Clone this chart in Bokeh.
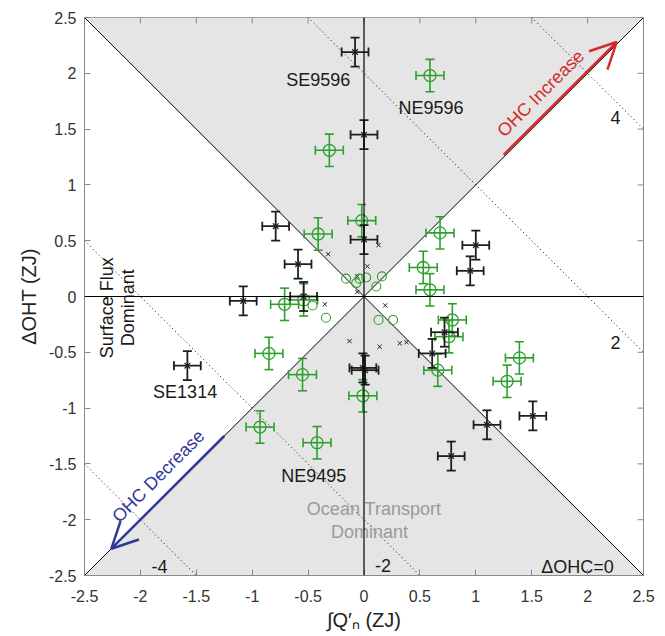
import numpy as np
from bokeh.plotting import figure
from bokeh.models import FixedTicker, Arrow, OpenHead, Range1d, Span
from bokeh.core.properties import value
from bokeh.embed import file_html
from bokeh.resources import INLINE

# ---------------- data ----------------
LIM = 2.5
ticks = [-2.5, -2, -1.5, -1, -0.5, 0, 0.5, 1, 1.5, 2, 2.5]
tick_labels = ["-2.5", "-2", "-1.5", "-1", "-0.5", "0", "0.5", "1", "1.5", "2", "2.5"]
ohc_levels = [-4, -2, 2, 4]
ohc_level_labels = ["-4", "-2", "2", "4"]

# black crosses with error bars
blk_x = [-0.08, 0.00, -0.79, -0.59, 0.00, -1.08, -0.54, -1.58, -0.01, 0.01,
         0.72, 0.61, 1.10, 1.51, 0.78, 1.00, 0.95]
blk_y = [2.19, 1.45, 0.63, 0.29, 0.51, -0.04, 0.00, -0.62, -0.64, -0.66,
         -0.32, -0.51, -1.15, -1.07, -1.43, 0.46, 0.23]
blk_xerr = [0.12] * len(blk_x)
blk_yerr = [0.13] * len(blk_x)

# green circles with error bars
grn_x = [0.59, -0.31, -0.41, -0.02, 0.68, 0.53, 0.59, -0.71, -0.54, -0.85,
         -0.55, -0.01, -0.93, -0.42, 0.79, 0.76, 0.66, 1.39, 1.28]
grn_y = [1.98, 1.31, 0.56, 0.68, 0.57, 0.26, 0.06, -0.07, -0.03, -0.51,
         -0.70, -0.89, -1.17, -1.31, -0.21, -0.36, -0.66, -0.55, -0.76]
grn_xerr = [0.125] * len(grn_x)
grn_yerr = [0.145] * len(grn_x)

# small black x markers (no error bars)
sx_x = [-0.32, 0.13, 0.03, -0.06, -0.06, -0.35, 0.19, -0.13, 0.14, 0.32, 0.38]
sx_y = [0.38, 0.46, 0.27, 0.18, 0.04, -0.07, -0.08, -0.40, -0.45, -0.42, -0.41]

# small green circles (no error bars)
sc_x = [-0.16, -0.07, -0.04, 0.02, 0.16, 0.11, -0.46, -0.34, 0.13, 0.26]
sc_y = [0.16, 0.12, 0.16, 0.17, 0.18, 0.09, -0.08, -0.19, -0.21, -0.21]

# region / point annotations
name_labels = ["SE9596", "NE9596", "SE1314", "NE9495"]
name_x = [-0.41, 0.60, -1.60, -0.45]
name_y = [1.94, 1.69, -0.86, -1.61]

inc_start = (1.25, 1.27)
inc_end = (2.26, 2.28)
dec_start = (-1.25, -1.25)
dec_end = (-2.26, -2.26)

# ---------------- figure ----------------
FONT = value("Liberation Sans")
GREEN = "#2ca02c"
BLACK = "#1e1e1e"
FRAME = "#8a8a8a"

p = figure(width=665, height=636, x_range=Range1d(-LIM, LIM), y_range=Range1d(-LIM, LIM),
           output_backend="svg", toolbar_location=None,
           min_border_left=84, min_border_right=22, min_border_top=17, min_border_bottom=61)
p.grid.visible = False
p.outline_line_color = FRAME
p.outline_line_width = 1
p.background_fill_color = "white"

# shaded ocean-transport-dominant regions
p.patches(xs=[[-LIM, LIM, 0], [-LIM, LIM, 0]], ys=[[LIM, LIM, 0], [-LIM, -LIM, 0]],
          fill_color="#e5e5e5", line_color=None)

# dotted iso-OHC lines x + y = c
for c in ohc_levels:
    x0, x1 = max(-LIM, c - LIM), min(LIM, c + LIM)
    p.line([x0, x1], [c - x0, c - x1], line_color="black", line_width=1, line_dash="1 3")

# solid reference lines
p.line([-LIM, LIM], [-LIM, LIM], line_color="black", line_width=1)
p.line([-LIM, LIM], [LIM, -LIM], line_color="black", line_width=1)
p.add_layout(Span(location=0, dimension="height", line_color="black", line_width=1.2))
p.add_layout(Span(location=0, dimension="width", line_color="black", line_width=1.2))

# inward tick marks on the top and right frame edges (clipped to the frame)
p.scatter(ticks, [LIM] * len(ticks), marker="dash", size=12, angle=np.pi / 2,
          line_color=FRAME, line_width=1)
p.scatter([LIM] * len(ticks), ticks, marker="dash", size=12, angle=0,
          line_color=FRAME, line_width=1)


def errorbars(xs, ys, xe, ye, color, lw):
    xs = np.array(xs); ys = np.array(ys); xe = np.array(xe); ye = np.array(ye)
    p.segment(xs - xe, ys, xs + xe, ys, line_color=color, line_width=lw)
    p.segment(xs, ys - ye, xs, ys + ye, line_color=color, line_width=lw)
    p.scatter(np.concatenate([xs - xe, xs + xe]), np.concatenate([ys, ys]), marker="dash",
              size=9, angle=np.pi / 2, line_color=color, line_width=lw)
    p.scatter(np.concatenate([xs, xs]), np.concatenate([ys - ye, ys + ye]), marker="dash",
              size=9, angle=0, line_color=color, line_width=lw)


errorbars(grn_x, grn_y, grn_xerr, grn_yerr, GREEN, 1.6)
p.scatter(grn_x, grn_y, marker="circle", size=12, fill_color=None, line_color=GREEN, line_width=1.3)

errorbars(blk_x, blk_y, blk_xerr, blk_yerr, BLACK, 1.8)
p.scatter(blk_x, blk_y, marker="x", size=8, line_color=BLACK, line_width=1.2)

p.scatter(sx_x, sx_y, marker="x", size=6, line_color=BLACK, line_width=1)
p.scatter(sc_x, sc_y, marker="circle", size=9, fill_color=None, line_color=GREEN, line_width=1.1)


# texts
def txt(x, y, s, color="#1a1a1a", size="18px", angle=0.0, align="center"):
    p.text(x=[x], y=[y], text=[s], text_color=color, text_font=FONT,
           text_font_size=value(size), angle=angle, text_align=align, text_baseline="middle")


p.text(x=name_x, y=name_y, text=name_labels, text_color="#1a1a1a", text_font=FONT,
       text_font_size=value("18px"), text_align="center", text_baseline="middle")

lvl_pos = {4: (2.25, 1.60), 2: (2.25, -0.41), -2: (0.17, -2.41), -4: (-1.83, -2.42)}
for c, lab in zip(ohc_levels, ohc_level_labels):
    txt(lvl_pos[c][0], lvl_pos[c][1], lab)

txt(1.91, -2.42, "ΔOHC=0")
txt(0.09, -1.90, "Ocean Transport", color="#9a9a9a")
txt(0.05, -2.11, "Dominant", color="#9a9a9a")
txt(-2.30, -0.10, "Surface Flux", angle=np.pi / 2)
txt(-2.11, -0.10, "Dominant", angle=np.pi / 2)
txt(1.58, 1.82, "OHC Increase", color="#d42a2a", angle=np.pi / 4)
txt(-1.84, -1.61, "OHC Decrease", color="#2e3a9a", angle=np.pi / 4)

# arrows
p.add_layout(Arrow(end=OpenHead(size=26, line_color="#d42a2a", line_width=2.5),
                   x_start=inc_start[0], y_start=inc_start[1], x_end=inc_end[0], y_end=inc_end[1],
                   line_color="#d42a2a", line_width=2.5))
p.add_layout(Arrow(end=OpenHead(size=26, line_color="#2e3a9a", line_width=2.5),
                   x_start=dec_start[0], y_start=dec_start[1], x_end=dec_end[0], y_end=dec_end[1],
                   line_color="#2e3a9a", line_width=2.5))

# axes
overrides = {t: l for t, l in zip(ticks, tick_labels)}
for ax in (p.xaxis[0], p.yaxis[0]):
    ax.ticker = FixedTicker(ticks=ticks)
    ax.major_tick_in = 6
    ax.major_tick_out = 0
    ax.minor_tick_line_color = None
    ax.axis_line_color = FRAME
    ax.major_tick_line_color = FRAME
    ax.major_label_overrides = overrides
    ax.major_label_text_font = "Liberation Sans"
    ax.major_label_text_font_size = "16px"
    ax.major_label_text_color = "#333333"
    ax.axis_label_text_font = "Liberation Sans"
    ax.axis_label_text_font_size = "20px"
    ax.axis_label_text_font_style = "normal"
    ax.axis_label_text_color = "#222222"

p.xaxis.axis_label = "∫Q′ₙ (ZJ)"
p.yaxis.axis_label = "ΔOHT (ZJ)"
p.xaxis.major_label_standoff = 14
p.yaxis.major_label_standoff = 8
p.xaxis.axis_label_standoff = 4
p.yaxis.axis_label_standoff = 6

open("out.html", "w").write(file_html(p, INLINE))
